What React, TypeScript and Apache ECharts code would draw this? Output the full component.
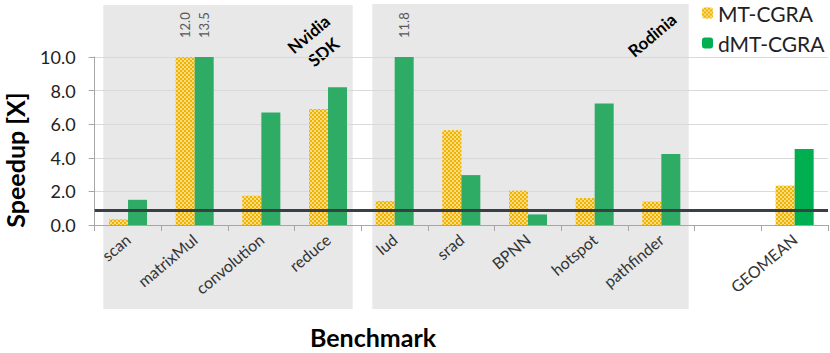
import React, { useEffect, useRef } from "react";
import * as echarts from "echarts";

const categories = ["scan", "matrixMul", "convolution", "reduce", "lud", "srad", "BPNN", "hotspot", "pathfinder", "", "GEOMEAN"];
const mtValues: (number | null)[] = [0.34, 12.0, 1.74, 6.9, 1.43, 5.64, 2.04, 1.6, 1.39, null, 2.34];
const dmtValues: (number | null)[] = [1.5, 13.5, 6.7, 8.2, 11.8, 2.97, 0.63, 7.23, 4.22, null, 4.52];
const yTicks = [0, 2, 4, 6, 8, 10];
const Y_MAX = 10;
const referenceLine = 0.9;
const seriesNames = ["MT-CGRA", "dMT-CGRA"];
const groupLabels = ["Nvidia\nSDK", "Rodinia"];
const xTitle = "Benchmark";
const yTitle = "Speedup [X]";

const FONT = "Lato, 'Open Sans', sans-serif";

function toData(vals: (number | null)[], lastColor?: string) {
  return vals.map((v, i) => {
    if (v == null) return "-";
    const item: any = { value: Math.min(v, Y_MAX) };
    if (v > Y_MAX) {
      item.label = {
        show: true,
        position: "top",
        distance: 19,
        rotate: 90,
        align: "left",
        verticalAlign: "middle",
        formatter: v.toFixed(1),
        fontSize: 13,
        color: "#595959",
        fontFamily: FONT,
      };
    }
    if (lastColor && i === vals.length - 1) item.itemStyle = { color: lastColor };
    return item;
  });
}

export default function App() {
  const ref = useRef<HTMLDivElement>(null);
  useEffect(() => {
    document.body.style.margin = "0";
    const chart = echarts.init(ref.current!, null, { renderer: "svg" });
    const mtDecal = {
      symbol: "rect",
      symbolSize: 1,
      color: "#f0b400",
      dashArrayX: [[2, 2], [0, 2, 2, 0]],
      dashArrayY: [2, 0],
      rotation: 0,
    };
    const rot = (40 * Math.PI) / 180;
    chart.setOption({
      animation: false,
      textStyle: { fontFamily: FONT },
      grid: { left: 94.7, right: 2, top: 57, bottom: 128, containLabel: false, outerBoundsMode: "none" },
      legend: {
        orient: "vertical",
        left: 702,
        top: 2,
        padding: 0,
        itemWidth: 11,
        itemHeight: 11,
        itemGap: 8,
        textStyle: { fontSize: 21, color: "#222", fontFamily: FONT, lineHeight: 22 },
        data: [
          { name: seriesNames[0], itemStyle: { color: "#f9dc84", decal: mtDecal } },
          { name: seriesNames[1], itemStyle: { color: "#00b050" } },
        ],
      },
      xAxis: {
        type: "category",
        data: categories,
        axisLine: { lineStyle: { color: "#a6a6a6" } },
        axisTick: { show: true, length: 6, interval: 0, lineStyle: { color: "#a6a6a6" } },
        axisLabel: { interval: 0, rotate: 40, fontSize: 16, color: "#333", margin: 12, fontFamily: FONT },
      },
      yAxis: {
        type: "value",
        min: 0,
        max: Y_MAX,
        interval: 2,
        axisLine: { show: true, lineStyle: { color: "#a6a6a6" } },
        axisTick: { show: true, length: 6, lineStyle: { color: "#a6a6a6" } },
        axisLabel: {
          fontSize: 18,
          color: "#222",
          margin: 19,
          fontFamily: FONT,
          formatter: (v: number) => (yTicks.includes(v) ? v.toFixed(1) : ""),
        },
        splitLine: { lineStyle: { color: "#d9d9d9" } },
      },
      series: [
        {
          name: seriesNames[0],
          type: "bar",
          barWidth: 19,
          barGap: "0%",
          z: 2,
          itemStyle: { color: "#f9dc84", decal: mtDecal },
          data: toData(mtValues),
        },
        {
          name: seriesNames[1],
          type: "bar",
          barWidth: 19,
          barGap: "0%",
          z: 2,
          itemStyle: { color: "#2eac66" },
          data: toData(dmtValues, "#00b050"),
          markLine: {
            silent: true,
            z: 5,
            symbol: ["none", "none"],
            label: { show: false },
            lineStyle: { color: "#3a3f45", width: 3, type: "solid" },
            data: [{ yAxis: referenceLine }],
          },
        },
      ],
      graphic: [
        { type: "rect", z: -10, shape: { x: 103.3, y: 5, width: 249.4, height: 304 }, style: { fill: "#e8e8e8" } },
        { type: "rect", z: -10, shape: { x: 372.3, y: 4, width: 316.4, height: 305 }, style: { fill: "#e8e8e8" } },
        {
          type: "text",
          x: 316,
          y: 43,
          rotation: rot,
          style: {
            text: groupLabels[0],
            font: `bold 17px ${FONT}`,
            fill: "#000",
            textAlign: "center",
            textVerticalAlign: "middle",
            lineHeight: 23,
          },
        },
        {
          type: "text",
          x: 652,
          y: 35,
          rotation: rot,
          style: {
            text: groupLabels[1],
            font: `bold 17px ${FONT}`,
            fill: "#000",
            textAlign: "center",
            textVerticalAlign: "middle",
          },
        },
        {
          type: "text",
          x: 15,
          y: 160,
          rotation: Math.PI / 2,
          style: {
            text: yTitle,
            font: `bold 25px ${FONT}`,
            fill: "#000",
            textAlign: "center",
            textVerticalAlign: "middle",
          },
        },
        {
          type: "text",
          x: 373,
          y: 337,
          style: {
            text: xTitle,
            font: `bold 25px ${FONT}`,
            fill: "#000",
            textAlign: "center",
            textVerticalAlign: "middle",
          },
        },
      ],
    });
    return () => chart.dispose();
  }, []);
  return <div ref={ref} style={{ width: 830, height: 353 }} />;
}
